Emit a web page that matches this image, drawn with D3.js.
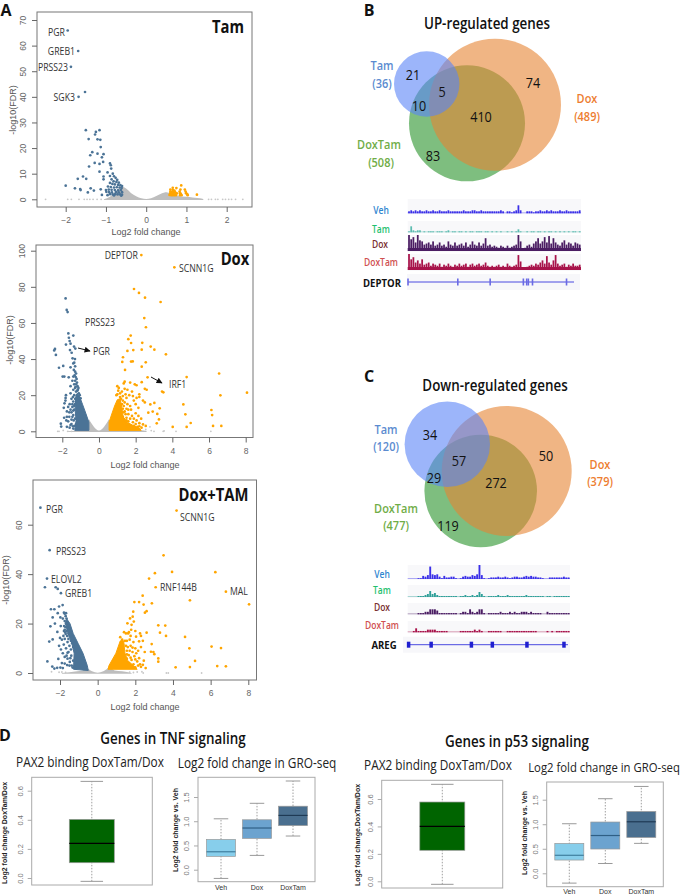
<!DOCTYPE html>
<html><head><meta charset="utf-8">
<style>html,body{margin:0;padding:0;background:#fff}svg{display:block}text{font-family:"Open Sans","Noto Sans",sans-serif}</style>
<script src="https://cdn.jsdelivr.net/npm/d3@7/dist/d3.min.js"></script></head><body>
<script>
// ---------- volcano data: [log2FC, -log10 FDR]
const tamDown=[[-1.95,65.9],[-1.69,57.9],[-1.87,51.7],[-1.68,40],[-1.52,41.9],[-1.5,27],[-1.16,27],[-1.25,26.3],[-1.27,25.3],[-1.43,23.5],[-1.21,23.4],[-1.14,23.2],[-1.13,20.4],[-1.34,18.4],[-1.21,17.8],[-1.39,17.2],[-1.06,17.6],[-1.1,16.4],[-1.28,14.2],[-1.07,14.6],[-1.16,13.8],[-1.42,12.8],[-1.16,10.8],[-.9,14],[-.88,13.3],[-.87,12],[-.96,10.5],[-.83,10],[-1.57,8.9],[-1.7,8],[-1.49,8],[-1.06,8.9],[-1.06,7.8],[-.9,9.1],[-2,5.3],[-1.77,4.3],[-1.64,4],[-1.63,3.6],[-1.38,4.3],[-1.45,2.7],[-1.3,3.4],[-1.13,3.9],[-1.1,1.7],[-.8,9],[-.76,8.4],[-.72,7.6],[-.86,7.8],[-.81,7],[-.74,6.8],[-.68,6.5],[-.9,6.4],[-.84,6],[-.78,5.8],[-.7,5.6],[-.64,5.5],[-.6,5.2],[-.95,5],[-.88,4.8],[-.8,4.6],[-.73,4.7],[-.66,4.6],[-.61,4.4],[-1.0,3.6],[-.93,3.8],[-.86,3.7],[-.78,3.6],[-.7,3.5],[-.63,3.6],[-.99,2.9],[-.92,2.8],[-.85,2.7],[-.75,2.8],[-.68,2.7],[-.6,2.8],[-.9,2],[-.83,1.9],[-.77,2],[-.71,1.9],[-.65,1.9],[-.6,1.8],[-.96,1.6],[-.8,1.5],[-.62,1.4]];
const tamUp=[[.87,5.4],[.66,4.5],[.75,4.4],[.6,3.8],[.66,3.7],[.7,3.4],[.85,3.8],[.96,3.8],[.6,3],[.64,2.9],[.68,2.9],[.72,2.8],[.83,3],[.98,3],[.6,2.4],[.64,2.3],[.68,2.2],[.73,2.2],[.76,2.3],[.84,2.4],[.86,2.1],[.99,2.4],[1.02,2],[.58,1.7],[.62,1.6],[.66,1.6],[.7,1.6],[.74,1.6],[.84,1.6],[.88,1.6],[1.03,1.6],[1.26,1.8]];
const tamGrey=[[-2.5,0],[-1.95,0],[-1.86,0],[-1.67,0],[-1.54,0],[-1.47,0],[-1.4,0],[-1.32,0],[-1.22,0],[-1.12,0],[1.55,0],[1.62,0],[1.72,0],[1.78,0],[1.9,0],[1.97,0],[2.05,0],[2.12,0],[2.22,0],[2.4,0]];
const tamMound=[[-1.05,0],[-.9,1],[-.75,3],[-.62,5],[-.5,4.2],[-.38,2.5],[-.25,1.2],[-.12,.4],[0,.1],[.12,.4],[.25,1.3],[.38,2.3],[.5,2.8],[.62,2.2],[.8,1.3],[1,1],[1.15,.7],[1.4,.2],[1.42,0]];

const doxDown=[[-1.82,73.6],[-1.76,67.2],[-1.71,66],[-1.67,54.2],[-1.4,53],[-1.64,51.8],[-1.6,50],[-1.8,48],[-1.55,48.5],[-1.36,46.9],[-1.29,45.8],[-2.4,45.6],[-2.44,44.8],[-2.35,42.3],[-1.58,45],[-1.49,43.5],[-1.44,40.4],[-1.31,40],[-1.4,37.6],[-1.95,36.2],[-2.18,35.2],[-1.55,35.4],[-1.98,30.3],[-1.89,30.3],[-1.65,29.9],[-1.4,30.3],[-1.35,38],[-1.3,36],[-1.37,34],[-1.3,33],[-1.25,32],[-1.33,31],[-1.27,30],[-1.22,29],[-1.3,28],[-1.2,27],[-1.45,28],[-1.25,26],[-1.17,25],[-1.55,25],[-1.3,24],[-1.4,23],[-1.15,23],[-1.25,22],[-1.1,21],[-1.55,21],[-1.35,20],[-1.2,20],[-1.8,20],[-1.82,18.5],[-1.83,17],[-1.5,18],[-1.3,18],[-1.1,18.5],[-1.4,16.5],[-1.22,16.5],[-1.05,17],[-1.88,15.5],[-1.6,15],[-1.3,15],[-1.92,13],[-1.68,13.5],[-1.45,13.5],[-1.35,12],[-1.75,11],[-1.5,10.5],[-1.4,9],[-1.62,8],[-1.75,8],[-1.9,7.5],[-1.3,7],[-1.5,6.5],[-2.08,4.2],[-2.06,2.6],[-1.68,5.5],[-1.5,4],[-1.75,2.5],[-1.6,2],[-1.42,2.8],[-1.25,4],[-1.35,26],[-1.28,24.5],[-1.12,24],[-1.18,22.5],[-1.05,20],[-1.42,19],[-1,18.3],[-1.45,15],[-1.35,14],[-1.4,11.5],[-1.55,12],[-1.45,8],[-1.38,6],[-1.55,3.5],[-1.4,1.5],[-1.33,3],[-1.78,6],[-1.62,10.5]];
const doxDownMass=[[-1.32,.5],[-.55,.5],[-.55,5],[-.72,10],[-.9,15],[-1.05,19],[-1.18,21],[-1.27,19],[-1.3,12],[-1.25,6]];
const doxUp=[[2.31,97.6],[4.11,90.8],[1.91,78.8],[2.18,76.6],[2.51,74],[3.36,71.6],[2.47,62.7],[2.56,57.6],[1.73,53],[1.6,51],[1.75,48.9],[2.36,49],[2.82,46.9],[3.02,45.2],[1.87,45],[1.55,44.5],[2.33,45.2],[3.65,42.6],[1.31,41],[1.27,38.4],[1.75,38.6],[1.84,38.7],[2.55,38.2],[2.33,35.8],[1.42,34],[2.65,29.9],[4.78,30],[6.55,32],[8.07,21.4],[3.44,22],[3.51,21.6],[6.62,19.9],[4.6,14.9],[3.02,15.7],[2.8,14.9],[6.13,11.8],[4.71,9.4],[6.17,9],[5,4.6],[6.67,3],[6.22,3],[4.78,2.4],[4.02,2.4],[2.69,10.3],[3.18,9.6],[3.31,12.7],[2.93,10.9],[3.27,6.6],[3.15,4.4],[1.4,27.5],[1.35,26.5],[1.7,27],[1.95,26],[2.33,27.2],[1,25],[1.08,24],[1.25,22],[1.4,23.5],[1.55,23],[2.05,25.5],[2.5,23.5],[2.6,23],[1.8,22],[1.15,21],[1,20.5],[.95,20],[1.3,19.5],[1.65,20],[2.2,20.5],[1.2,18],[1.5,18.5],[1.9,17],[2.2,19],[2.4,17],[1.1,17],[1.4,16],[2,15],[2.5,16],[1.35,14],[1.7,14],[2.15,13],[1.5,12.5],[1.75,12],[1.4,11],[1.6,9.5],[2,10],[1.8,8.5],[2.3,7],[1.5,7.5],[2.05,6],[1.3,8],[1.25,6],[1.6,5.5],[1.85,5],[2.2,4.5],[2.4,3.8],[1.4,4.5],[1.65,3.5],[1.9,3],[2.1,2.5],[2.32,2],[1.45,2.5],[1.3,3.5],[1.75,2],[2.55,3],[1.3,17],[1.45,20.5],[1.25,15],[1.55,15],[1.3,12.5],[1.45,9.5],[1.6,12],[1.7,7],[1.9,7],[2.15,8.5],[1.5,6],[1.55,3],[2,4],[2.2,2.8],[1.05,22.5],[1.85,19.5],[2.05,18.5],[1.15,19],[1.35,10.5]];
const doxUpMass=[[.55,.5],[.55,5],[.68,9],[.85,14],[1,17.5],[1.15,18],[1.25,13],[1.32,8],[1.55,5],[1.9,3],[2.2,1.8],[2.3,.5]];
const doxGrey=[[-2.25,0],[-2.18,0],[-1.95,.5],[-1.7,0],[-1.5,0],[2.55,1],[2.78,2.5],[2.85,.4],[3,0],[3.5,0],[3.55,.2],[6.1,0],[4.2,0]];
const doxMound=[[-1.75,0],[-1.2,.5],[-.62,.8],[-.55,6.5],[-.45,5],[-.3,2.8],[-.15,1.1],[0,.4],[.15,1.1],[.3,2.8],[.45,5],[.55,6.5],[.62,.8],[2.3,.6],[2.6,0]];

const combDown=[[-3.04,66.9],[-2.55,49.7],[-2.69,38.2],[-2.8,34.7],[-2.23,34.7],[-2.12,34],[-1.95,32.3],[-1.86,27.5],[-2.05,26.9],[-2.48,25.8],[-2.3,25.8],[-2.39,22.5],[-2.12,24.2],[-1.79,24.4],[-1.68,24.2],[-1.75,24],[-2.51,18.9],[-2.27,20],[-1.96,19],[-2.14,16.6],[-1.79,17],[-2.39,13.6],[-2.57,12.7],[-2.67,4.7],[-2.09,5.7],[-2.41,2.6],[-2.3,1.8],[-2.15,2.1],[-1.98,2.2],[-1.85,2],[-1.98,22.5],[-1.85,22],[-1.7,23],[-1.65,22],[-1.75,21],[-1.68,20],[-1.62,20.3],[-1.78,19],[-1.7,18.5],[-1.6,18.5],[-1.75,17.5],[-1.65,17],[-1.58,17.5],[-1.55,16],[-1.7,15.8],[-1.62,15],[-1.48,15],[-2.0,14.2],[-1.9,13.5],[-1.75,13.8],[-1.55,13.8],[-1.42,13],[-1.6,12.5],[-1.35,12],[-2.05,11],[-1.8,11.5],[-1.5,11],[-1.3,10.5],[-1.95,9.5],[-1.68,10],[-1.42,9.5],[-1.85,8],[-1.6,8.2],[-1.9,4],[-1.75,6.5],[-1.6,5.8],[-1.75,3.8],[-1.62,3.2],[-1.5,3],[-1.4,7],[-1.72,16.5],[-1.52,18],[-1.82,15],[-1.45,6],[-1.55,8.5],[-1.65,7],[-1.48,4.5],[-1.38,3],[-1.3,5],[-1.33,2.2],[-1.25,2.6]];
const combDownMass=[[-.5,1],[-.55,3],[-.78,8],[-1.04,12],[-1.3,16],[-1.47,20],[-1.65,22],[-1.71,20],[-1.57,16],[-1.37,12],[-1.25,8],[-1.28,1.5]];
const combUp=[[4.19,65.7],[3.5,47.6],[3.95,40.9],[6.25,40.8],[3.04,40.4],[2.73,38.2],[3.08,34.7],[6.81,32.9],[8.04,27.8],[4.9,29.4],[2.39,31.3],[1.95,28.7],[2.2,28.7],[2.88,28.2],[2.44,27.7],[2.51,24.4],[2.6,25],[1.89,24.8],[1.86,22.8],[1.72,22.1],[1.58,20.1],[3.22,19.3],[3.59,19.2],[3.31,16.3],[3.63,15],[4.64,14.6],[2.6,16.3],[1.4,16.5],[1.66,16.5],[2.25,16],[2.04,14.7],[2.87,11.7],[6.05,10.7],[6.55,10.1],[4.87,10],[2.83,8.6],[2.96,8.5],[3.01,7.6],[3.22,5.9],[3.22,4.6],[5.17,4.9],[6.35,2.8],[6.81,2.7],[4.9,2.4],[4.14,2.3],[1.8,19.5],[1.62,16],[1.5,16],[1.75,15],[2,17],[2.3,15],[1.45,13],[1.55,13],[1.7,13.5],[1.9,12.5],[2.2,12.8],[2.4,13],[1.35,11.5],[1.5,11],[1.75,11],[2,10],[2.3,10.5],[1.3,9.5],[1.55,9],[1.85,8.5],[2.15,9],[2.5,8.5],[1.4,7.5],[1.65,7.2],[1.95,6.8],[2.2,6],[2.45,5],[1.55,5.8],[1.8,5.3],[2.1,4.7],[1.65,4],[1.9,3.5],[2.25,3.5],[2.4,3.3],[1.8,2.5],[2,2.3],[2.3,2.5],[2.55,2],[1.3,13.5],[1.2,14.5],[1.6,10.5],[1.85,10.3],[1.7,9],[2.05,8],[1.55,7.5],[1.75,6.2],[2,5.5],[1.5,4.5],[1.7,3],[2.15,3],[1.78,17.5],[1.92,20.8]];
const combUpMass=[[.55,1.5],[.6,3],[.97,8],[1.2,13],[1.38,13],[1.45,8],[1.6,5],[1.9,3],[2.1,1.5]];
const combGrey=[[-2.45,.5],[-2.05,.3],[-1.9,.4],[-1.7,.2],[2.1,.4],[2.35,.5],[2.42,0],[3.65,0],[3.75,0],[5.52,0],[1.7,.3],[1.9,.2]];
const combMound=[[-1.9,0],[-1.1,.7],[-.8,1],[-.6,2.2],[-.45,1.4],[-.3,.7],[-.15,.3],[0,.1],[.15,.3],[.3,.7],[.45,1.4],[.6,2.2],[.9,1],[1.3,.7],[1.8,0]];
// ---------- axis ticks
const tamXTicks=[-2,-1,0,1,2], tamYTicks=[0,10,20,30,40,50,60,70];
const doxXTicks=[-2,0,2,4,6,8], doxYTicks=[0,20,40,60,80,100];
const combXTicks=[-2,0,2,4,6,8], combYTicks=[0,20,40,60];
// ---------- venn labels
const upRegions=[["21",413,74],["74",533,82],["5",442,91],["10",419,105],["410",481,116],["83",433,155]];
const downRegions=[["34",430,434],["50",546,455],["57",459,460],["29",434,477],["272",496,482],["119",448,525]];
// ---------- browser tracks
const tracksUpVeh=[2,3,2,3,2,3,2,2,3,2,2,3,2,2,3,2,2,2,3,2,2,2,2,2,2,3,2,2,2,3,3,2,2,3,2,2,2,2,2,2,2,2,3,2,0,2,2,1,2,3,8,3,0,0,2,2,2,1,2,2,3,2,2,3,2,3,2,2,2,3,2,2,3,2,2,2,2,2,3];
const tracksUpTam=[1,6,2,1,2,2,0,1,0,1,1,1,0,1,1,1,0,1,2,0,1,1,0,1,1,0,1,0,1,1,0,1,1,1,0,1,1,0,1,0,1,0,1,0,0,1,0,1,0,1,3,1,0,0,1,0,1,1,0,1,1,0,1,0,1,1,0,1,0,1,0,1,0,1,0,1,1,0,1];
const tracksUpDox=[15,11,13,8,15,10,9,6,7,8,6,9,5,6,8,5,6,4,9,6,5,8,5,6,7,5,8,4,6,9,6,5,8,5,7,12,5,6,4,5,4,3,5,4,3,5,3,4,5,6,15,9,1,3,5,6,4,7,9,12,7,9,13,8,14,7,12,8,6,5,8,10,6,8,7,5,8,7,6];
const tracksUpDoxTam=[15,10,12,7,9,6,10,5,6,7,4,6,5,4,6,3,5,4,6,4,3,5,4,6,4,5,6,3,5,6,4,5,6,4,5,7,4,3,4,3,4,5,3,4,3,6,4,3,4,5,14,8,1,2,3,4,5,4,6,5,7,9,6,13,7,5,9,14,6,4,5,6,3,5,4,6,4,4,5];
const tracksDownVeh=[0,0,0,0,1,1,4,3,5,16,6,5,6,3,1,4,2,2,3,3,1,0,1,3,4,3,3,5,4,6,18,5,1,0,1,2,2,2,3,2,2,3,2,1,2,3,3,2,2,3,4,3,4,3,3,2,2,1,0,0,2,2,2,2,2,2,3,2,2];
const tracksDownTam=[0,0,0,0,1,1,1,2,3,6,3,4,2,1,1,1,1,1,1,1,1,0,1,1,2,1,1,2,1,2,5,3,1,0,1,1,1,1,2,1,1,1,2,1,1,1,1,1,1,1,2,1,1,1,1,1,1,1,0,1,1,0,1,1,1,1,1,1,1];
const tracksDownDox=[0,0,0,0,1,1,1,2,2,4,4,4,3,1,1,1,1,1,1,1,1,0,1,2,2,1,4,2,1,2,4,4,1,0,1,1,1,1,1,2,1,1,1,2,1,2,1,1,2,2,2,1,2,1,1,1,1,0,0,2,1,1,1,1,1,1,1,1,1];
const tracksDownDoxTam=[0,0,1,3,1,1,1,1,2,2,2,2,1,1,1,1,1,0,0,0,0,0,1,1,1,1,1,1,2,1,2,1,0,0,1,1,1,1,1,1,0,0,1,1,1,1,1,1,1,1,1,1,1,1,1,0,0,0,0,1,0,1,0,1,1,1,1,1,1];
const exonsDeptor=[0,.3,.495,.695,.715,.725,.75,.955];
const exonsAreg=[.01,.15,.4,.53,.745,.975];
// ---------- boxplots [whiskerLow,q1,median,q3,whiskerHigh]
const tnfBinding=[-.023,.105,.238,.403,.664];
const p53Binding=[-.022,.226,.40,.578,.707];
const groGroups=["Veh","Dox","DoxTam"];
const tnfGro=[[-.18,.275,.37,.625,1.05],[.295,.645,.86,1.03,1.37],[.695,.91,1.12,1.31,1.83]];
const p53Gro=[[-.2,.27,.367,.61,1.01],[.2,.495,.77,1.045,1.52],[.61,.73,1.05,1.26,1.77]];
const groColors=["#87ceeb","#6ca3cf","#4a6f8f"], groMedian=["#3f7f9f","#2f5f85","#1f3a55"];

const BLUE="#4b7396",ORANGE="#ffa500",GREY="#bebebe",AX="#666";
const svg=d3.select("body").append("svg").attr("width",685).attr("height",895);
const HELV='"Liberation Sans",sans-serif';
function txt(s,x,y,o={}){const t=svg.append("text").text(s).attr("x",x).attr("y",y).attr("dominant-baseline","central")
 .attr("text-anchor",o.a||"middle").attr("font-size",o.s||10).attr("fill",o.c||"#222").attr("font-weight",o.w||400);
 if(o.f)t.style("font-family",o.f);
 else if(!o.noSq){const n=t.node().getComputedTextLength();t.attr("textLength",n*.87).attr("lengthAdjust","spacingAndGlyphs");}
 if(o.rot)t.attr("transform",`rotate(-90 ${x} ${y})`); return t;}
function axes(p,x,y,xt,yt){
 const gx=svg.append("g").attr("transform",`translate(0,${p.b})`).call(d3.axisBottom(x).tickValues(xt).tickSize(5).tickPadding(5).tickFormat(d3.format("d")));
 const gy=svg.append("g").attr("transform",`translate(${p.l},0)`).call(d3.axisLeft(y).tickValues(yt).tickSize(5).tickPadding(3).tickFormat(d3.format("d")));
 [gx,gy].forEach(g=>{g.select(".domain").remove();g.selectAll("line").attr("stroke",AX);g.selectAll("text").attr("fill","#666").style("font-family",HELV).attr("font-size",8.5);});
 gy.selectAll("text").attr("transform","rotate(-90)").attr("text-anchor","middle").attr("x",0).attr("y",-11).attr("dy",0);
}
function volcano(p){
 const x=d3.scaleLinear().domain(p.xd).range(p.xr), y=d3.scaleLinear().domain(p.yd).range(p.yr);
 const line=d3.line().x(d=>x(d[0])).y(d=>y(d[1]));
 const area=d3.area().x(d=>x(d[0])).y0(y(0)+.7).y1(d=>y(d[1])).curve(d3.curveMonotoneX);
 svg.append("path").attr("d",area(p.mound)).attr("fill",GREY);
 svg.append("g").selectAll("circle").data(p.grey).join("circle").attr("cx",d=>x(d[0])).attr("cy",d=>y(d[1])).attr("r",.9).attr("fill","#c8c8c8");
 if(p.dm)svg.append("path").attr("d",line(p.dm)+"Z").attr("fill",BLUE).attr("stroke",BLUE);
 if(p.um)svg.append("path").attr("d",line(p.um)+"Z").attr("fill",ORANGE).attr("stroke",ORANGE);
 svg.append("g").selectAll("circle").data(p.down).join("circle").attr("cx",d=>x(d[0])).attr("cy",d=>y(d[1])).attr("r",1.35).attr("fill",BLUE);
 svg.append("g").selectAll("circle").data(p.up).join("circle").attr("cx",d=>x(d[0])).attr("cy",d=>y(d[1])).attr("r",1.35).attr("fill",ORANGE);
 svg.append("rect").attr("x",p.l).attr("y",p.t).attr("width",p.r-p.l).attr("height",p.b-p.t).attr("fill","none").attr("stroke","#777").attr("stroke-width",1);
 axes(p,x,y,p.xt,p.yt);
}
volcano({l:37,r:252,t:12,b:207,xd:[-2,2],xr:[65.7,226.7],yd:[0,70],yr:[199.3,20],down:tamDown,up:tamUp,grey:tamGrey,mound:tamMound,xt:tamXTicks,yt:tamYTicks});
volcano({l:36,r:253,t:245,b:437.5,xd:[-2,8],xr:[62.3,245.7],yd:[0,100],yr:[431.3,250.7],down:doxDown,up:doxUp,grey:doxGrey,mound:doxMound,dm:doxDownMass,um:doxUpMass,xt:doxXTicks,yt:doxYTicks});
volcano({l:33,r:256.5,t:480,b:680,xd:[-2,8],xr:[60,248.3],yd:[0,60],yr:[673,524.7],down:combDown,up:combUp,grey:combGrey,mound:combMound,dm:combDownMass,um:combUpMass,xt:combXTicks,yt:combYTicks});
const vl={s:9,f:HELV,c:"#555"};
txt("-log10(FDR)",13,110,{...vl,rot:1});txt("-log10(FDR)",10,340,{...vl,rot:1});txt("-log10(FDR)",6,580,{...vl,rot:1});
txt("Log2 fold change",146,232,vl);txt("Log2 fold change",145,465,vl);txt("Log2 fold change",145,707,vl);
const gl=(s,x,y,a)=>txt(s,x,y,{a,s:10,c:"#333"});
gl("PGR",65,32,"end");gl("GREB1",75,51,"end");gl("PRSS23",68,67,"end");gl("SGK3",75,97,"end");
gl("DEPTOR",138,255,"end");gl("SCNN1G",179,268,"start");gl("PRSS23",100,322,"middle");gl("PGR",93,351,"start");gl("IRF1",169,384,"start");
gl("PGR",46,509,"start");gl("PRSS23",56,551,"start");gl("ELOVL2",51,579,"start");gl("GREB1",65,593,"start");gl("SCNN1G",180,517,"start");gl("RNF144B",160,587,"start");gl("MAL",230,591,"start");
const pt={s:17,w:700,c:"#111"};
txt("Tam",228,26,pt);txt("Dox",235,258,pt);txt("Dox+TAM",213.5,494,pt);
svg.append("defs").append("marker").attr("id","ah").attr("viewBox","0 0 10 10").attr("refX",9).attr("refY",5).attr("markerWidth",7).attr("markerHeight",6).attr("orient","auto").append("path").attr("d","M0,0L10,5L0,10Z").attr("fill","#111");
[[78,348,90,351],[151,377,162,383]].forEach(a=>svg.append("line").attr("x1",a[0]).attr("y1",a[1]).attr("x2",a[2]).attr("y2",a[3]).attr("stroke","#111").attr("stroke-width",1).attr("marker-end","url(#ah)"));
// panel letters
const let_={s:16,w:700,c:"#111",noSq:1};
txt("A",6,10,let_);txt("B",369,10,let_);txt("C",369,376,let_);txt("D",5,735,let_);
// venns
function venn(title,tx,ty,cs,labels,regions){
 txt(title,tx,ty,{s:15.4,w:600,c:"#111"});
 [["#28932a",2],["#e68432",1],["#5a84f7",0]].forEach(([c,i])=>svg.append("circle").attr("cx",cs[i][0]).attr("cy",cs[i][1]).attr("r",cs[i][2]).attr("fill",c).attr("fill-opacity",.6));
 labels.forEach(l=>txt(l[0],l[1],l[2],{s:12.6,w:600,c:l[3]}));
 regions.forEach(r=>txt(r[0],r[1],r[2],{s:14.5,c:"#111"}));
}
const TB="#5b8bd0",DO="#ed7d31",DT="#70ad47";
venn("UP-regulated genes",487,23,[[426.7,84,32.7],[495,104.7,66],[467,123.3,58]],
 [["Tam",382,65,TB],["(36)",382,83,TB],["Dox",587,98,DO],["(489)",587,116,DO],["DoxTam",379,144,DT],["(508)",381,162,DT]],upRegions);
venn("Down-regulated genes",495,385,[[447.3,444.3,42.7],[506.7,471,65],[480.7,491,56.3]],
 [["Tam",386,429,TB],["(120)",386,446,TB],["Dox",600,464,DO],["(379)",600,481,DO],["DoxTam",396,508,DT],["(477)",396,525,DT]],downRegions);
// tracks
function track(vals,l,r,base,h,vmax,col,bgTop,bw){
 svg.append("rect").attr("x",l).attr("y",bgTop).attr("width",r-l).attr("height",base-bgTop+1).attr("fill","#f8f8fa");
 const x=d3.scaleBand().domain(d3.range(vals.length)).range([l,r]).padding(.2), y=d3.scaleLinear().domain([0,vmax]).range([base,base-h]);
 svg.append("g").selectAll("rect").data(vals).join("rect").attr("x",(d,i)=>x(i)).attr("width",x.bandwidth()).attr("y",d=>y(d)).attr("height",d=>base-y(d)).attr("fill",col);
 svg.append("line").attr("x1",l).attr("x2",r).attr("y1",base-(bw||1)/2).attr("y2",base-(bw||1)/2).attr("stroke",col).attr("stroke-width",bw||.8).attr("stroke-opacity",bw?1:.5);
}
function gene(ex,l,r,y,name,nx,bgL,bgR,ew,eh,col){
 svg.append("rect").attr("x",bgL).attr("y",y-8).attr("width",bgR-bgL).attr("height",16).attr("fill","#f7f7fa");
 const x=d3.scaleLinear().domain([0,1]).range([l,r]);
 svg.append("line").attr("x1",x(0)).attr("x2",x(1)).attr("y1",y).attr("y2",y).attr("stroke","#4a4ae0").attr("stroke-width",1);
 svg.append("g").selectAll("rect").data(ex).join("rect").attr("x",d=>x(d)-ew/2).attr("width",ew).attr("y",y-eh/2).attr("height",eh).attr("fill",col);
 txt(name,nx,y,{s:11,w:700,c:"#111"});
}
const tl=(s,x,y,c)=>txt(s,x,y,{s:9.8,w:600,c});
const l1=407.7,r1=581;
track(tracksUpVeh,l1,r1,213.3,8,8,"#3a2fe8",199);track(tracksUpTam,l1,r1,232.3,6,6,"#5cbcb0",221);track(tracksUpDox,l1,r1,251,16,15,"#4b1d63",235,3);track(tracksUpDoxTam,l1,r1,270,16,15,"#a8134a",254,3);
gene(exonsDeptor,408,574,282,"DEPTOR",382,407,580,1.6,7,"#6a6ae4");
tl("Veh",381,210,"#2f86d0");tl("Tam",381,229,"#1fbf6f");tl("Dox",380,244,"#7a3030");tl("DoxTam",381,262,"#d05050");
const l2=407.7,r2=570;
track(tracksDownVeh,l2,r2,579,14,18,"#3a2fe8",565);track(tracksDownTam,l2,r2,597,6,6,"#2f9f98",585);track(tracksDownDox,l2,r2,614.3,5,4,"#4b1d63",603);track(tracksDownDoxTam,l2,r2,632.3,4,3,"#a8134a",621);
gene(exonsAreg,407,568,644.7,"AREG",384,403,570,3.5,6,"#2020d0");
tl("Veh",382,574,"#2f86d0");tl("Tam",382,590,"#1fbf6f");tl("Dox",382,607,"#7a3030");tl("DoxTam",382,625,"#d05050");
// boxplots
function box(p){
 const y=d3.scaleLinear().domain(p.yd).range(p.yr);
 svg.append("rect").attr("x",p.l).attr("y",p.t).attr("width",p.r-p.l).attr("height",p.b-p.t).attr("fill","none").attr("stroke","#aaa").attr("stroke-width",1);
 const x=d3.scalePoint().domain(p.names).range(p.cx);
 p.names.forEach((n,i)=>{const d=p.vals[i],c=x(n);
  svg.append("line").attr("x1",c).attr("x2",c).attr("y1",y(d[0])).attr("y2",y(d[4])).attr("stroke","#888").attr("stroke-dasharray","1.5,1.5").attr("stroke-width",.8);
  [d[0],d[4]].forEach(v=>svg.append("line").attr("x1",c-p.w/4).attr("x2",c+p.w/4).attr("y1",y(v)).attr("y2",y(v)).attr("stroke","#999"));
  svg.append("rect").attr("x",c-p.w/2).attr("width",p.w).attr("y",y(d[3])).attr("height",y(d[1])-y(d[3])).attr("fill",p.cols[i]).attr("stroke","#999").attr("stroke-width",.7);
  svg.append("line").attr("x1",c-p.w/2).attr("x2",c+p.w/2).attr("y1",y(d[2])).attr("y2",y(d[2])).attr("stroke",p.meds[i]).attr("stroke-width",1.2);
  if(p.labels)txt(n,c,p.b+(p.ly||6),{s:7,f:HELV,c:"#333"});
 });
 const g=svg.append("g").attr("transform",`translate(${p.l},0)`).call(d3.axisLeft(y).tickValues(p.ticks).tickSize(4).tickFormat(d3.format(".1f")));
 g.select(".domain").remove();g.selectAll("line").attr("stroke","#aaa");
 g.selectAll("text").attr("fill","#777").style("font-family",HELV).attr("font-size",7.5).attr("transform","rotate(-90)").attr("text-anchor","middle").attr("x",0).attr("y",-9).attr("dy",0);
 txt(p.yl,p.ylx,p.yly,{s:7,w:700,f:HELV,c:"#222",rot:1});
}
box({l:31.7,r:152.3,t:777.3,b:885,yd:[0,.6],yr:[878,790.7],names:["a"],cx:[91.8,91.8],w:45,vals:[tnfBinding],cols:["#006400"],meds:["#000"],ticks:[0,.2,.4,.6],yl:"Log2 fold change DoxTam/Dox",ylx:4,yly:833});
box({l:198,r:315,t:777.3,b:881.7,yd:[0,1.5],yr:[869.7,797],names:groGroups,cx:[221,293],w:29,vals:tnfGro,cols:groColors,meds:groMedian,labels:1,ticks:[0,.5,1,1.5],yl:"Log2 fold change vs. Veh",ylx:175,yly:830,ly:6});
box({l:381.7,r:502.7,t:780.3,b:888,yd:[0,.6],yr:[881.3,799],names:["a"],cx:[442.3,442.3],w:45,vals:[p53Binding],cols:["#006400"],meds:["#000"],ticks:[0,.2,.4,.6],yl:"Log2 fold change.DoxTam/Dox",ylx:357,yly:835});
box({l:546.7,r:663.3,t:782,b:886.7,yd:[0,1.5],yr:[873.3,799.7],names:groGroups,cx:[569.3,641.3],w:29,vals:p53Gro,cols:groColors,meds:groMedian,labels:1,ticks:[0,.5,1,1.5],yl:"Log2 fold change vs. Veh",ylx:524,yly:833,ly:5});
const ht={s:15.4,w:600,c:"#111"},st={s:13.6,c:"#222"};
txt("Genes in TNF signaling",173,738,ht);txt("Genes in p53 signaling",517,741,ht);
txt("PAX2 binding DoxTam/Dox",90,761,st);txt("Log2 fold change in GRO-seq",257,762,st);
txt("PAX2 binding DoxTam/Dox",438,764,st);txt("Log2 fold change in GRO-seq",604,767,{...st,s:13});
</script></body></html>
